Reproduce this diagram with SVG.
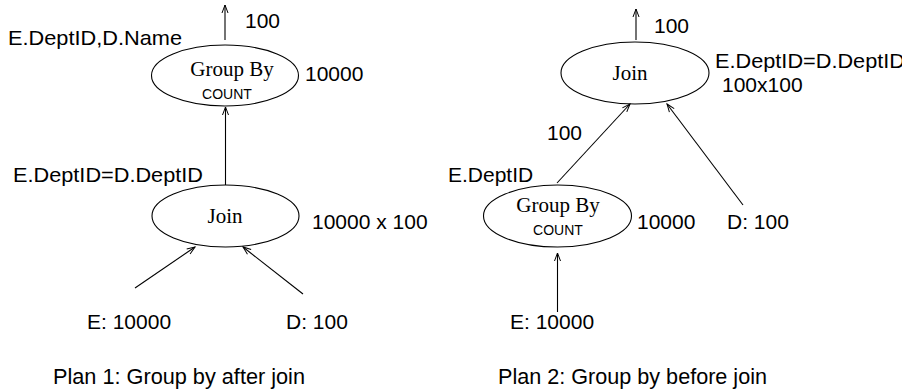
<svg xmlns="http://www.w3.org/2000/svg" width="902" height="390" viewBox="0 0 902 390">
  <defs>
    <marker id="arrow" markerUnits="userSpaceOnUse" markerWidth="12" markerHeight="10" refX="0" refY="0" viewBox="-10 -5 12 10" orient="auto" overflow="visible">
      <path d="M -8 -3 L 0 0 L -8 3" fill="none" stroke="#000" stroke-width="1"/>
    </marker>
    <style>
      .node ellipse { fill: #fff; stroke: #000; stroke-width: 1.1; }
      .op { font-family: "Liberation Serif", "Times New Roman", serif; font-size: 21px; fill: #000; text-anchor: middle; }
      .agg { font-family: "Liberation Sans", Arial, sans-serif; font-size: 14px; fill: #000; text-anchor: middle; }
      .lbl { font-family: "Liberation Sans", Arial, sans-serif; font-size: 21px; fill: #000; }
      .cap { font-family: "Liberation Sans", Arial, sans-serif; font-size: 22px; fill: #000; }
      .edge { stroke: #000; stroke-width: 1.1; fill: none; marker-end: url(#arrow); }
    </style>
  </defs>
  <rect width="902" height="390" fill="#fff"/>

  <!-- Plan 1: aggregate after the join -->
  <g id="p1-groupby" class="node">
    <ellipse cx="225" cy="75.5" rx="73.5" ry="30.5"/>
    <text class="op" x="232" y="76">Group By</text>
    <text class="agg" x="227" y="99">COUNT</text>
  </g>
  <g id="p1-join" class="node">
    <ellipse cx="225.5" cy="216" rx="73.5" ry="31"/>
    <text class="op" x="225" y="223">Join</text>
  </g>
  <g id="p1-scan-e"><text class="lbl" x="87" y="329">E: 10000</text></g>
  <g id="p1-scan-d"><text class="lbl" x="286" y="329">D: 100</text></g>

  <g id="p1-labels">
    <text class="lbl" x="245" y="28">100</text>
    <text class="lbl" x="8" y="45" textLength="174" lengthAdjust="spacingAndGlyphs">E.DeptID,D.Name</text>
    <text class="lbl" x="305" y="81">10000</text>
    <text class="lbl" x="13" y="182" textLength="190" lengthAdjust="spacingAndGlyphs">E.DeptID=D.DeptID</text>
    <text class="lbl" x="312" y="229">10000 x 100</text>
    <text class="cap" x="53" y="384" textLength="252" lengthAdjust="spacingAndGlyphs">Plan 1: Group by after join</text>
  </g>

  <!-- Plan 2: aggregate before the join -->
  <g id="p2-join" class="node">
    <ellipse cx="635" cy="73" rx="74" ry="31"/>
    <text class="op" x="630" y="80">Join</text>
  </g>
  <g id="p2-groupby" class="node">
    <ellipse cx="557.5" cy="216" rx="74" ry="31"/>
    <text class="op" x="558" y="211.5">Group By</text>
    <text class="agg" x="558" y="235">COUNT</text>
  </g>
  <g id="p2-scan-e"><text class="lbl" x="510" y="329">E: 10000</text></g>
  <g id="p2-scan-d"><text class="lbl" x="727" y="229">D: 100</text></g>

  <g id="p2-labels">
    <text class="lbl" x="654" y="33">100</text>
    <text class="lbl" x="715" y="68" textLength="190" lengthAdjust="spacingAndGlyphs">E.DeptID=D.DeptID</text>
    <text class="lbl" x="722" y="91.5">100x100</text>
    <text class="lbl" x="547" y="140">100</text>
    <text class="lbl" x="448" y="182">E.DeptID</text>
    <text class="lbl" x="637" y="229">10000</text>
    <text class="cap" x="498" y="384" textLength="269" lengthAdjust="spacingAndGlyphs">Plan 2: Group by before join</text>
  </g>

  <!-- Data-flow connectors -->
  <g id="connectors">
    <line class="edge" x1="225" y1="40" x2="225" y2="5"/>
    <line class="edge" x1="225.5" y1="185" x2="225.5" y2="107"/>
    <line class="edge" x1="135" y1="288" x2="195" y2="247"/>
    <line class="edge" x1="303" y1="294" x2="243" y2="247"/>

    <line class="edge" x1="636" y1="40" x2="636" y2="9"/>
    <line class="edge" x1="557" y1="183" x2="630" y2="104"/>
    <line class="edge" x1="743" y1="205" x2="667" y2="104"/>
    <line class="edge" x1="557.5" y1="312" x2="557.5" y2="253"/>
  </g>
</svg>
